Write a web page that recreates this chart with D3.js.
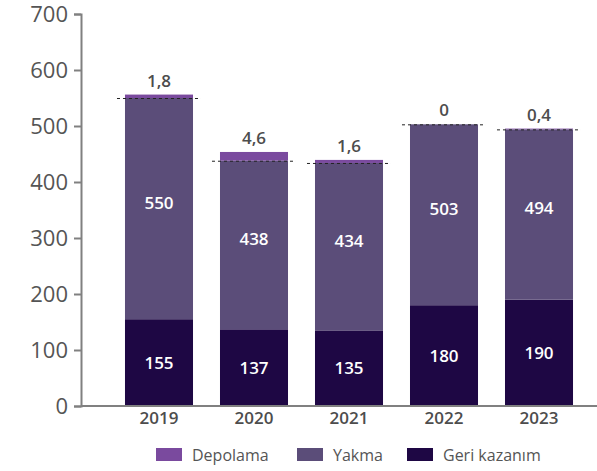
<!DOCTYPE html>
<html>
<head>
<meta charset="utf-8">
<script src="https://cdn.jsdelivr.net/npm/d3@7"></script>
<style>
  html, body { margin: 0; padding: 0; background: #fff; overflow: hidden; }
  svg { display: block; }
  text { font-family: "Open Sans", sans-serif; }
</style>
</head>
<body>
<div id="viz"></div>
<script>
const years = ["2019", "2020", "2021", "2022", "2023"];
const geriKazanim = [155, 137, 135, 180, 190];
const yakma = [550, 438, 434, 503, 494];       // label shown; bar drawn up to this level
const depolama = [1.8, 4.6, 1.6, 0, 0.4];
const yTicks = [0, 100, 200, 300, 400, 500, 600, 700];
const seriesNames = ["Depolama", "Yakma", "Geri kazanım"];

const width = 597;
const height = 471;
const colors = {"Depolama": "#7a4a9e", "Yakma": "#5b4d79", "Geri kazanım": "#1e0744"};
const fmt = d => String(d).replace(".", ",");

const svg = d3.select("#viz")
    .append("svg")
    .attr("width", width)
    .attr("height", height);

const margin = {top: 14, right: 0, left: 81, bottom: 65};
const innerWidth = width - margin.left - margin.right;
const innerHeight = height - margin.top - margin.bottom;

const xScale = d3.scaleBand()
    .domain(years)
    .range([0, 536])
    .paddingInner(0.284)
    .paddingOuter(0.463);

const yScale = d3.scaleLinear()
    .domain([0, 700])
    .range([innerHeight, 0]);

// depolama is tiny, so it is shown with a visual boost
const depBoost = 3.4;

const g = svg.append("g")
    .attr("transform", `translate(${margin.left}, ${margin.top})`);

const data = years.map((y, i) => ({
    year: y, geri: geriKazanim[i], yakma: yakma[i], dep: depolama[i]
}));

const bw = xScale.bandwidth();

// geri kazanim
g.selectAll(".geri").data(data).enter().append("rect")
    .attr("x", d => xScale(d.year))
    .attr("y", d => yScale(d.geri))
    .attr("width", bw)
    .attr("height", d => yScale(0) - yScale(d.geri))
    .attr("fill", colors["Geri kazanım"]);

// yakma
g.selectAll(".yakma").data(data).enter().append("rect")
    .attr("x", d => xScale(d.year))
    .attr("y", d => yScale(d.yakma))
    .attr("width", bw)
    .attr("height", d => yScale(d.geri) - yScale(d.yakma))
    .attr("fill", colors["Yakma"]);

// depolama
g.selectAll(".dep").data(data).enter().append("rect")
    .attr("x", d => xScale(d.year))
    .attr("y", d => yScale(d.yakma + d.dep * depBoost))
    .attr("width", bw)
    .attr("height", d => yScale(d.yakma) - yScale(d.yakma + d.dep * depBoost))
    .attr("fill", colors["Depolama"]);

// dashed lines
g.selectAll(".dash").data(data).enter().append("line")
    .attr("x1", d => xScale(d.year) - 8)
    .attr("x2", d => xScale(d.year) + bw + 8)
    .attr("y1", d => yScale(d.yakma) + 0.5)
    .attr("y2", d => yScale(d.yakma) + 0.5)
    .attr("stroke", "#222")
    .attr("stroke-width", 1)
    .attr("stroke-dasharray", "3,3");

// labels
g.selectAll(".lblGeri").data(data).enter().append("text")
    .attr("x", d => xScale(d.year) + bw / 2)
    .attr("y", d => (yScale(0) + yScale(d.geri)) / 2)
    .attr("dy", "0.35em")
    .attr("text-anchor", "middle")
    .attr("fill", "#fff")
    .attr("font-size", 17)
    .attr("font-weight", 600)
    .text(d => d.geri);

g.selectAll(".lblYakma").data(data).enter().append("text")
    .attr("x", d => xScale(d.year) + bw / 2)
    .attr("y", d => (yScale(d.geri) + yScale(d.yakma)) / 2 - 6)
    .attr("dy", "0.35em")
    .attr("text-anchor", "middle")
    .attr("fill", "#fff")
    .attr("font-size", 17)
    .attr("font-weight", 600)
    .text(d => d.yakma);

g.selectAll(".lblDep").data(data).enter().append("text")
    .attr("x", d => xScale(d.year) + bw / 2)
    .attr("y", d => yScale(d.yakma + d.dep * depBoost) - 8)
    .attr("text-anchor", "middle")
    .attr("fill", "#4d4d4d")
    .attr("font-size", 17)
    .attr("font-weight", 600)
    .text(d => fmt(d.dep));

// y axis
const yAxis = d3.axisLeft(yScale)
    .tickValues(yTicks)
    .tickSize(7)
    .tickPadding(6);

const yAxisG = g.append("g").call(yAxis)
    .attr("font-size", null)
    .attr("font-family", null);
yAxisG.select(".domain").attr("stroke", "#808080").attr("stroke-width", 2);
yAxisG.selectAll(".tick line").attr("stroke", "#808080").attr("stroke-width", 2);
yAxisG.selectAll(".tick text")
    .attr("fill", "#555")
    .attr("text-anchor", "end")
    .attr("font-size", 22);

// x axis
const xAxis = d3.axisBottom(xScale).tickSize(0).tickPadding(6);
const xAxisG = g.append("g")
    .attr("transform", `translate(0, ${innerHeight})`)
    .call(xAxis)
    .attr("font-size", null)
    .attr("font-family", null);
xAxisG.select(".domain").attr("d", `M0,0H${innerWidth}`).attr("stroke", "#808080").attr("stroke-width", 2);
xAxisG.selectAll(".tick text")
    .attr("fill", "#4d4d4d")
    .attr("text-anchor", "middle")
    .attr("font-size", 17)
    .attr("font-weight", 600);

// legend
const legendX = [156, 297, 407];
const legend = svg.append("g");
seriesNames.forEach((name, i) => {
    legend.append("rect")
        .attr("x", legendX[i])
        .attr("y", 448)
        .attr("width", 26)
        .attr("height", 13)
        .attr("fill", colors[name]);
    legend.append("text")
        .attr("x", legendX[i] + 36)
        .attr("y", 455)
        .attr("dy", "0.35em")
        .attr("fill", "#555")
        .attr("font-size", 16)
        .text(name);
});
</script>
</body>
</html>
